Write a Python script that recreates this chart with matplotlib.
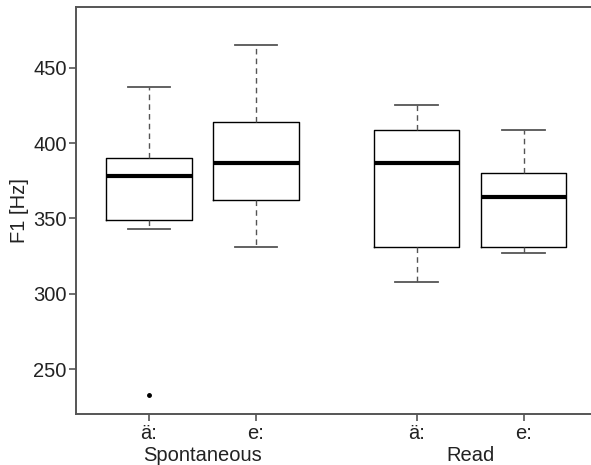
import matplotlib
matplotlib.use('Agg')
import matplotlib.pyplot as plt
import matplotlib.transforms as mtransforms

plt.rcParams['font.family'] = ['Liberation Sans', 'DejaVu Sans']

# F1 box statistics (Hz)
vowels = ['ä:', 'e:', 'ä:', 'e:']
groups = ['Spontaneous', 'Read']
positions = [1, 2, 3.5, 4.5]
group_centers = [1.5, 4.0]
whis_lo = [343, 331, 308, 327]
q1 = [349, 362, 331, 331]
median = [378, 387, 387, 364]
q3 = [390, 414, 409, 380]
whis_hi = [437, 465, 425, 409]
outliers = [[233], [], [], []]

stats = []
for i in range(len(vowels)):
    stats.append(dict(whislo=whis_lo[i], q1=q1[i], med=median[i], q3=q3[i],
                      whishi=whis_hi[i], fliers=outliers[i]))

fig = plt.figure(figsize=(5.91, 4.65), dpi=100)
ax = fig.add_axes([0.129, 0.109, 0.871, 0.875])

ax.bxp(stats, positions=positions, widths=0.8, showfliers=True,
       boxprops=dict(color='black', linewidth=1.0),
       medianprops=dict(color='black', linewidth=3.0, solid_capstyle='butt'),
       whiskerprops=dict(color='#555555', linewidth=1.0, linestyle=(0, (4, 3))),
       capprops=dict(color='#555555', linewidth=1.3),
       capwidths=0.4,
       flierprops=dict(marker='o', markersize=2.5, markerfacecolor='black',
                       markeredgecolor='black'))

ax.set_xlim(0.32, 5.13)
ax.set_ylim(220, 490)
ax.set_yticks([250, 300, 350, 400, 450])
ax.set_xticks(positions)
ax.set_xticklabels(vowels)
ax.tick_params(axis='both', labelsize=14.5, colors='#555555', labelcolor='#222222',
               length=5, width=1.2, pad=2)
ax.set_ylabel('F1 [Hz]', fontsize=14.5, labelpad=3, color='#222222')

for side in ['left', 'bottom', 'top']:
    ax.spines[side].set_color('#555555')
    ax.spines[side].set_linewidth(1.4)
ax.spines['right'].set_visible(False)

trans = mtransforms.blended_transform_factory(ax.transData, fig.transFigure)
for name, xc in zip(groups, group_centers):
    ax.text(xc, 1 - 455 / 465, name, transform=trans, ha='center', va='center',
            fontsize=14.5, color='#222222')

fig.savefig('out.png', dpi=100)
